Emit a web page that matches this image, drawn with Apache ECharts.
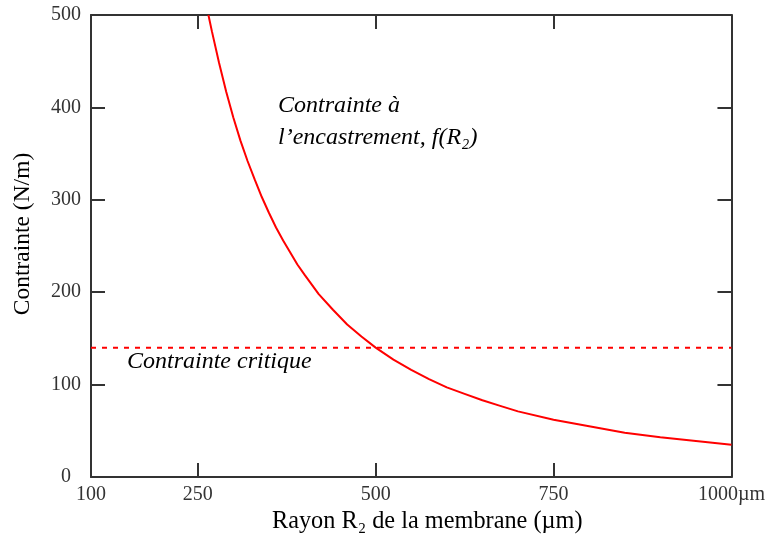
<!DOCTYPE html>
<html>
<head>
<meta charset="utf-8">
<script src="https://cdn.jsdelivr.net/npm/echarts@6/dist/echarts.min.js"></script>
<style>
html,body{margin:0;padding:0;background:#fff;}
#c{width:768px;height:540px;}
</style>
</head>
<body>
<div id="c"></div>
<script>
// Data
const radius = [265, 270, 280, 290, 300, 310, 320, 330, 340, 350, 360, 370, 380, 390, 400, 420, 440, 460, 480, 500, 525, 550, 575, 600, 625, 650, 675, 700, 750, 800, 850, 900, 950, 1000];
const stress = [500, 482, 448, 417, 389, 364, 342, 322, 303, 286, 270, 256, 243, 230, 219, 198, 181, 165, 152, 140, 127, 116, 106, 97, 90, 83, 77, 71, 62, 55, 48, 43, 39, 35];
const criticalX = [100, 1000];
const criticalStress = 140;
const xTickLabels = [100, 250, 500, 750, 1000];
const xTickMarks = [250, 500, 750];

const serif = "'Liberation Serif', 'DejaVu Serif', serif";
const axisColor = '#333';

const curveData = radius.map((r, i) => [r, stress[i]]);
const critData = criticalX.map(x => [x, criticalStress]);

const chart = echarts.init(document.getElementById('c'), null, {renderer: 'canvas'});
chart.setOption({
  animation: false,
  backgroundColor: '#fff',
  grid: {left: 91, right: 36, top: 15, bottom: 63, containLabel: false},
  xAxis: [
    {
      type: 'value', min: 100, max: 1000, position: 'bottom',
      axisLine: {show: true, onZero: false, lineStyle: {color: axisColor, width: 2}},
      axisTick: {show: true, inside: true, length: 14, customValues: xTickMarks, lineStyle: {color: axisColor, width: 2}},
      axisLabel: {customValues: xTickLabels, formatter: v => v === 1000 ? '1000µm' : String(v),
        fontFamily: serif, fontSize: 20, color: '#333', margin: 8},
      splitLine: {show: false},
      name: 'Rayon R₂ de la membrane (µm)', nameLocation: 'middle', nameGap: 32,
      nameTextStyle: {fontFamily: serif, fontSize: 24.3, color: '#000', padding: [0, 0, 0, 32]}
    },
    {
      type: 'value', min: 100, max: 1000, position: 'top',
      axisLine: {show: true, onZero: false, lineStyle: {color: axisColor, width: 2}},
      axisTick: {show: true, inside: true, length: 14, customValues: xTickMarks, lineStyle: {color: axisColor, width: 2}},
      axisLabel: {show: false},
      splitLine: {show: false}
    }
  ],
  yAxis: [
    {
      type: 'value', min: 0, max: 500, interval: 100, position: 'left',
      axisLine: {show: true, onZero: false, lineStyle: {color: axisColor, width: 2}},
      axisTick: {show: true, inside: true, length: 14, lineStyle: {color: axisColor, width: 2}},
      axisLabel: {fontFamily: serif, fontSize: 20, color: '#333', align: 'center', margin: 25},
      splitLine: {show: false},
      name: 'Contrainte (N/m)', nameLocation: 'middle', nameGap: 56,
      nameTextStyle: {fontFamily: serif, fontSize: 23.5, color: '#000', padding: [0, 0, 0, 24]}
    },
    {
      type: 'value', min: 0, max: 500, interval: 100, position: 'right',
      axisLine: {show: true, onZero: false, lineStyle: {color: axisColor, width: 2}},
      axisTick: {show: true, inside: true, length: 14, lineStyle: {color: axisColor, width: 2}},
      axisLabel: {show: false},
      splitLine: {show: false}
    }
  ],
  series: [
    {
      type: 'line', xAxisIndex: 0, yAxisIndex: 0, data: curveData,
      smooth: false, showSymbol: false, clip: true,
      lineStyle: {color: '#ff0000', width: 2}
    },
    {
      type: 'line', xAxisIndex: 0, yAxisIndex: 0, data: critData,
      showSymbol: false,
      lineStyle: {color: '#ff0000', width: 2, type: [5, 6]}
    }
  ],
  graphic: [
    {type: 'text', left: 278, top: 94, style: {text: 'Contrainte à', font: "italic 24px 'Liberation Serif', serif", fill: '#000'}},
    {type: 'text', left: 278, top: 126, style: {text: 'l’encastrement, f(R₂)', font: "italic 24px 'Liberation Serif', serif", fill: '#000'}},
    {type: 'text', left: 127, top: 350, style: {text: 'Contrainte critique', font: "italic 24px 'Liberation Serif', serif", fill: '#000'}}
  ]
});
</script>
</body>
</html>
